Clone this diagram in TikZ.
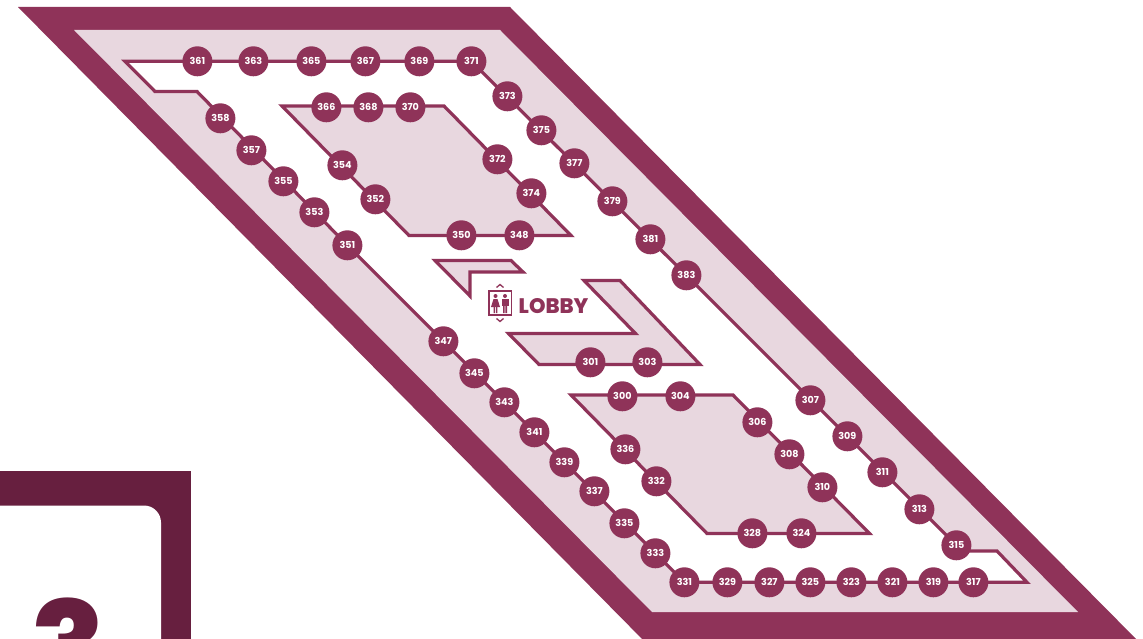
\documentclass[tikz,border=0pt]{standalone}
\usepackage{fontspec}
\setmainfont{Poppins}
\newfontfamily\heavyfont{Poppins ExtraBold}
\usetikzlibrary{backgrounds}
\definecolor{wine}{HTML}{8F3359}
\definecolor{blush}{HTML}{E8D7DF}
\definecolor{plum}{HTML}{671F3F}
\tikzset{
  x=1pt,y=-1pt,
  room/.style={circle,fill=wine,inner sep=0pt,minimum size=30pt,text=white,font=\fontsize{9.6}{10}\selectfont\bfseries},
  wall/.style={draw=wine,line width=3.2pt,line join=miter,miter limit=20},
  corridor/.style={wall,fill=white},
  island/.style={wall,fill=blush},
  iconline/.style={draw=wine,line width=1.1pt},
  iconfill/.style={fill=wine}
}
\newcommand{\roomat}[3]{\node[room] (n#1) at (#2+0.4,#3+0.3) {#1};}
\begin{document}
\begin{tikzpicture}
\useasboundingbox (0,0) rectangle (1143,639);
% rooms
\roomat{361}{197}{61}\roomat{363}{253}{61}\roomat{365}{311}{61}\roomat{367}{365}{61}\roomat{369}{419}{61}\roomat{371}{471}{61}
\roomat{373}{507}{96}\roomat{375}{541}{130}\roomat{377}{574}{163}\roomat{379}{612}{201}\roomat{381}{650}{239}\roomat{383}{686}{275}
\roomat{307}{810}{400}\roomat{309}{847}{436}\roomat{311}{882}{472}\roomat{313}{919}{509}\roomat{315}{956}{545}
\roomat{317}{973}{582}\roomat{319}{933}{582}\roomat{321}{892}{582}\roomat{323}{851}{582}\roomat{325}{810}{582}\roomat{327}{769}{582}\roomat{329}{727}{582}\roomat{331}{684}{582}
\roomat{333}{655}{553}\roomat{335}{624}{523}\roomat{337}{594}{491}\roomat{339}{564}{462}\roomat{341}{534}{432}\roomat{343}{504}{402}\roomat{345}{474}{373}\roomat{347}{443}{341}
\roomat{351}{347}{245}\roomat{353}{314}{212}\roomat{355}{283}{181}\roomat{357}{251}{150}\roomat{358}{220}{118}
\roomat{366}{326}{107}\roomat{368}{368}{107}\roomat{370}{410}{107}\roomat{372}{497}{159}\roomat{374}{531}{193}\roomat{354}{342}{165}\roomat{352}{375}{199}\roomat{350}{461}{235}\roomat{348}{519}{235}
\roomat{301}{590}{362}\roomat{303}{647}{362}
\roomat{300}{622}{396}\roomat{304}{680}{396}\roomat{306}{757}{422}\roomat{308}{789}{454}\roomat{310}{822}{487}\roomat{336}{625}{449}\roomat{332}{656}{481}\roomat{328}{752}{533}\roomat{324}{801}{533}
% lobby label
\node[anchor=base west,inner sep=0pt,text=wine,font=\fontsize{21}{22}\selectfont\heavyfont] (lobby) at (518.5,313.5) {LOBBY};
\begin{pgfonlayer}{background}
% building
\fill[wine] (18,7) -- (510,7) -- (1143,646) -- (649,646) -- cycle;
\fill[blush] (74,30) -- (500,30) -- (1078,612) -- (652,612) -- cycle;
% main corridor
\draw[corridor] (125,61.3) -- (n361.center) -- (n371.center) -- (n383.center) -- (n315.center) -- (962,551) -- (997,551) -- (1027,582.3) -- (n331.center) -- (n351.center) -- (197,91.5) -- (155,91.5) -- cycle;
% islands
\draw[island] (282,106) -- (444,106) -- (571,235.5) -- (409,235.5) -- cycle;
\draw[island] (571,395) -- (733,395) -- (869.5,533.5) -- (707,533.5) -- cycle;
\draw[island] (435,260.5) -- (511,260.5) -- (523,272) -- (470,272) -- (470,296) -- cycle;
\draw[island] (584,280.5) -- (620,280.5) -- (700,364.5) -- (539,364.5) -- (508.5,333.5) -- (635.5,333.5) -- cycle;
\end{pgfonlayer}
% lift icon
\draw[iconline,fill=white] (489,291) rectangle (511.5,315);
\draw[wine,line width=1.3pt] (496.5,287.5) -- (500,284.5) -- (503.5,287.5);
\draw[wine,line width=1.3pt] (496.5,318.5) -- (500,321.5) -- (503.5,318.5);
\fill[iconfill] (495.5,296) circle (2);
\fill[iconfill] (493.5,299) -- (497.5,299) -- (500,307) -- (491,307) -- cycle;
\fill[iconfill] (493.7,307) rectangle (495,313) (496,307) rectangle (497.3,313);
\fill[iconfill] (505,296) circle (2);
\fill[iconfill] (501.5,299) rectangle (508.5,306);
\fill[iconfill] (503,306) rectangle (504.6,313) (505.4,306) rectangle (507,313);
% page tab
\fill[plum] (-5,471) rectangle (190.5,650);
\fill[white,rounded corners=17pt] (-30,505.5) -- (161,505.5) -- (161,680) -- (-30,680) -- cycle;
\node[anchor=base,inner sep=0pt,text=plum,font=\fontsize{124}{124}\selectfont\heavyfont] (page) at (68,690) {3};
\end{tikzpicture}
\end{document}
